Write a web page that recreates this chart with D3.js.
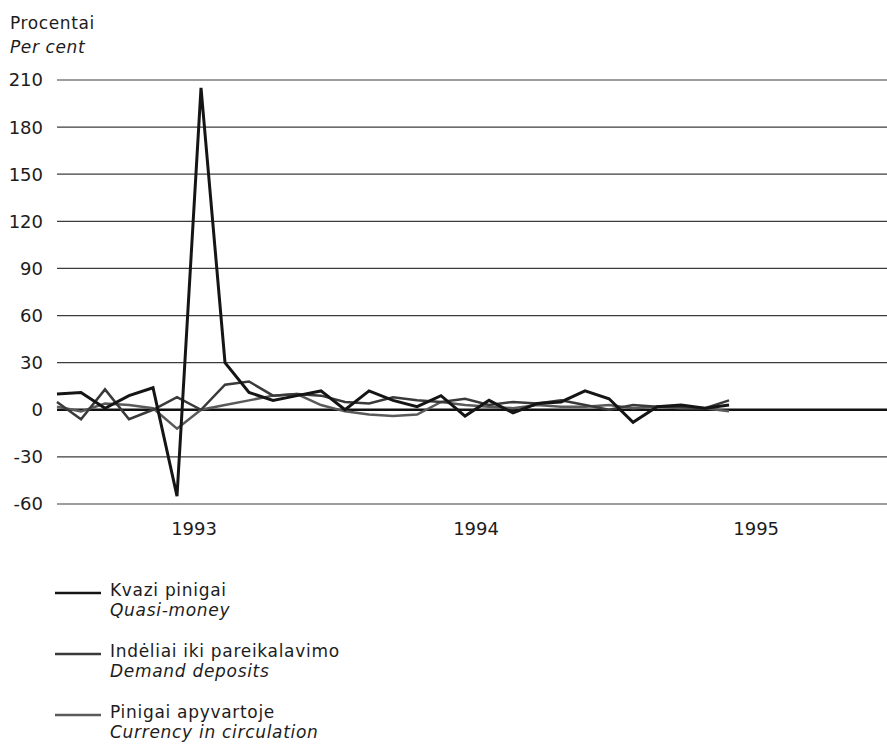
<!DOCTYPE html>
<html>
<head>
<meta charset="utf-8">
<script src="https://cdn.jsdelivr.net/npm/d3@7"></script>
<style>
  html, body { margin: 0; padding: 0; background: #fff; }
  svg { display: block; font-family: "DejaVu Sans", sans-serif; }
</style>
</head>
<body>
<div id="chart"></div>
<script>
// Monthly growth, per cent — months counted from Jul 1992 (index 0)
var quasiMoney   = [10, 11, 1, 9, 14, -55, 205, 30, 11, 6, 9, 12, 0, 12, 6, 2, 9, -4, 6, -2, 4, 5, 12, 7, -8, 2, 3, 1, 3];
var demandDep    = [5, -6, 13, -6, 0, 8, 0, 16, 18, 9, 10, 9, 5, 4, 8, 6, 5, 7, 3, 5, 4, 6, 3, 0, 3, 2, 2, 1, 6];
var currencyCirc = [2, -1, 4, 3, 1, -12, 0, 3, 6, 9, 10, 3, -1, -3, -4, -3, 5, 3, 2, 1, 3, 2, 2, 3, 1, 2, 1, 1, -1];

var yTicks = [-60, -30, 0, 30, 60, 90, 120, 150, 180, 210];
var yearLabels = ['1993', '1994', '1995'];
var yearTickAt = [5.71, 17.46, 29.13]; // in month index units

var series = [
  { lt: 'Kvazi pinigai', en: 'Quasi-money', values: quasiMoney, color: '#151515', width: 3 },
  { lt: 'Indėliai iki pareikalavimo', en: 'Demand deposits', values: demandDep, color: '#3a3a3a', width: 2.5 },
  { lt: 'Pinigai apyvartoje', en: 'Currency in circulation', values: currencyCirc, color: '#5a5a5a', width: 2.5 }
];

var W = 887, H = 754;
var FS = 17;       // stacked texts (header, legend)
var FS_AXIS = 18;  // tick labels
var INK = '#1c1c1c';
var svg = d3.select('#chart').append('svg')
  .attr('width', W).attr('height', H)
  .attr('viewBox', '0 0 ' + W + ' ' + H);

var x = d3.scaleLinear().domain([0, 34.58]).range([57, 887]);
var y = d3.scaleLinear().domain([-60, 210]).range([504, 80]);

// Header
svg.append('text').attr('x', 10).attr('y', 29)
  .attr('font-size', FS).attr('letter-spacing', 0.6).attr('fill', INK)
  .text('Procentai');
svg.append('text').attr('x', 10).attr('y', 53)
  .attr('font-size', FS).attr('letter-spacing', 0.6).attr('font-style', 'italic').attr('fill', INK)
  .text('Per cent');

// Grid + y labels
var grid = svg.append('g');
grid.selectAll('line').data(yTicks).enter().append('line')
  .attr('x1', x(0)).attr('x2', W)
  .attr('y1', function(d) { return y(d); })
  .attr('y2', function(d) { return y(d); })
  .attr('stroke', function(d) { return d === 0 ? '#111' : '#3c3c3c'; })
  .attr('stroke-width', function(d) { return d === 0 ? 2.4 : 1.2; });

grid.selectAll('text').data(yTicks).enter().append('text')
  .attr('x', 43)
  .attr('y', function(d) { return y(d); })
  .attr('dy', '0.36em')
  .attr('text-anchor', 'end')
  .attr('font-size', FS_AXIS).attr('fill', INK)
  .text(function(d) { return d; });

// Year labels
svg.append('g').selectAll('text').data(yearLabels).enter().append('text')
  .attr('x', function(d, i) { return x(yearTickAt[i]); })
  .attr('y', 535)
  .attr('text-anchor', 'middle')
  .attr('font-size', FS_AXIS).attr('fill', INK)
  .text(function(d) { return d; });

// Lines (draw lighter first so quasi-money sits on top)
var line = d3.line()
  .x(function(d, i) { return x(i); })
  .y(function(d) { return y(d); });

series.slice().reverse().forEach(function(s) {
  svg.append('path')
    .datum(s.values)
    .attr('d', line)
    .attr('fill', 'none')
    .attr('stroke', s.color)
    .attr('stroke-width', s.width)
    .attr('stroke-linejoin', 'miter');
});

// Legend
var legend = svg.append('g');
series.forEach(function(s, i) {
  var base = 596 + i * 61;
  legend.append('line')
    .attr('x1', 55).attr('x2', 101)
    .attr('y1', base - 3).attr('y2', base - 3)
    .attr('stroke', s.color).attr('stroke-width', 2.5);
  legend.append('text').attr('x', 110).attr('y', base)
    .attr('font-size', FS).attr('letter-spacing', 0.7).attr('fill', INK)
    .text(s.lt);
  legend.append('text').attr('x', 110).attr('y', base + 20)
    .attr('font-size', FS).attr('letter-spacing', 0.7).attr('font-style', 'italic').attr('fill', INK)
    .text(s.en);
});
</script>
</body>
</html>
